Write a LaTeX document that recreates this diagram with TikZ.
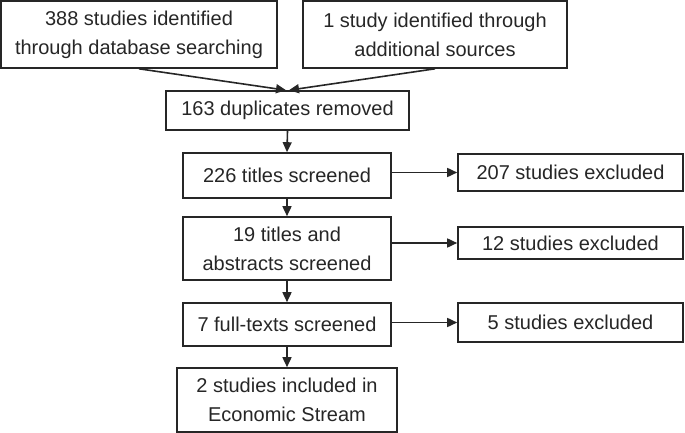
\documentclass[tikz,border=0pt]{standalone}
\usepackage{fontspec}
\setmainfont{Liberation Sans}
\usetikzlibrary{arrows.meta}
\definecolor{ink}{HTML}{262626}
\tikzset{
  box/.style={draw=ink, line width=1.6pt, text=ink, inner sep=0pt, align=center,
    font=\fontsize{20}{29}\selectfont},
  conn/.style={draw=ink, line width=1.6pt, -{Triangle[length=10pt,width=9pt]}},
}
\newcommand{\boxat}[6]{%
  \node[box, minimum width={#4-#2}, minimum height={#5-#3}] (#1) at ({(#2+#4)/2},{(#3+#5)/2}) {#6};}
\begin{document}
\begin{tikzpicture}[x=1pt,y=-1pt]
\useasboundingbox (0,0) rectangle (685,433);
\boxat{A}{1}{1}{277}{68}{388 studies identified\\through database searching}
\boxat{B}{303}{1}{567}{68}{1 study identified through\\additional sources}
\boxat{C}{166}{91}{409}{130}{163 duplicates removed}
\boxat{D}{183}{153}{391}{198}{226 titles screened}
\boxat{E}{458}{154}{683}{191}{207 studies excluded}
\boxat{F}{183}{217}{391}{280}{19 titles and\\abstracts screened}
\boxat{G}{458}{227}{683}{259}{12 studies excluded}
\boxat{H}{183}{303}{391}{346}{7 full-texts screened}
\boxat{I}{458}{303}{683}{342}{5 studies excluded}
\boxat{J}{177}{368}{397}{432}{2 studies included in\\Economic Stream}
\draw[conn] (A.south) -- ([xshift=-1.5pt]C.north);
\draw[conn] (B.south) -- ([xshift=1.5pt]C.north);
\draw[conn] (C.south) -- (D.north);
\draw[conn] (D.south) -- (F.north);
\draw[conn] (F.south) -- (H.north);
\draw[conn] (H.south) -- (J.north);
\draw[conn] (D.east |- E.west) -- (E.west);
\draw[conn] (F.east |- G.west) -- (G.west);
\draw[conn] (H.east |- I.west) -- (I.west);
\end{tikzpicture}
\end{document}
